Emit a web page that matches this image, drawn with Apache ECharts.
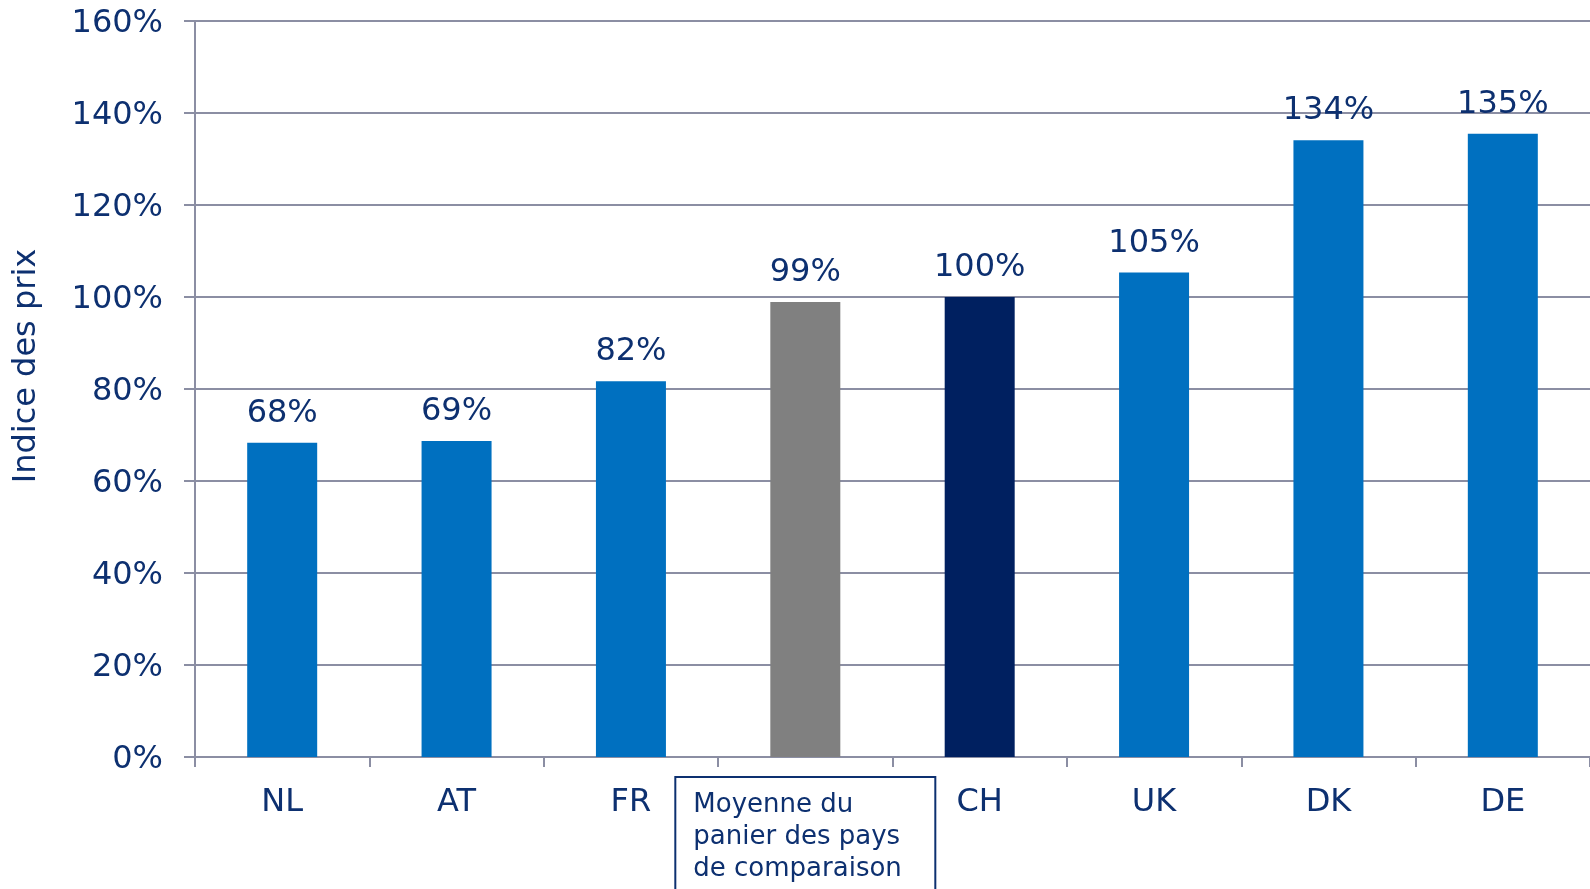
<!DOCTYPE html>
<html>
<head>
<meta charset="utf-8">
<script src="https://cdn.jsdelivr.net/npm/echarts@6/dist/echarts.min.js"></script>
<style>
html,body{margin:0;padding:0;background:#fff;}
#chart{width:1590px;height:889px;}
</style>
</head>
<body>
<div id="chart"></div>
<script>
const categories = ['NL', 'AT', 'FR', 'Moyenne du panier des pays de comparaison', 'CH', 'UK', 'DK', 'DE'];
const values = [68.3, 68.7, 81.7, 98.9, 100, 105.3, 134.1, 135.5];
const valueLabels = ['68%', '69%', '82%', '99%', '100%', '105%', '134%', '135%'];
const barColors = ['#0070c0', '#0070c0', '#0070c0', '#808080', '#002060', '#0070c0', '#0070c0', '#0070c0'];
const yTicks = [0, 20, 40, 60, 80, 100, 120, 140, 160];

const textColor = '#0d3070';
const lineColor = '#8b8ea3';
const font = 'DejaVu Sans';

const chart = echarts.init(document.getElementById('chart'));
chart.setOption({
  animation: false,
  grid: { left: 195, right: 0, top: 21, bottom: 132, containLabel: false, outerBoundsMode: 'none' },
  xAxis: {
    type: 'category',
    data: categories.map((c, i) => i === 3 ? {
      value: c,
      textStyle: {
        borderColor: '#0d3070', borderWidth: 2,
        padding: [12, 20, 60, 18]
      }
    } : c),
    axisLine: { lineStyle: { color: lineColor, width: 2 } },
    axisTick: { show: true, length: 10, lineStyle: { color: lineColor, width: 2 } },
    axisLabel: {
      color: textColor, fontFamily: font, fontSize: 32, lineHeight: 52, margin: 20,
      interval: 0, hideOverlap: false,
      formatter: function (v) {
        if (v.indexOf('Moyenne') === 0) {
          return '{l|Moyenne du}\n{l|panier des pays}\n{l|de comparaison}';
        }
        return v;
      },
      rich: {
        l: { width: 222, align: 'left', fontSize: 26, lineHeight: 32, color: textColor, fontFamily: font }
      }
    }
  },
  yAxis: {
    type: 'value',
    min: 0, max: 160, interval: 20,
    name: 'Indice des prix',
    nameLocation: 'middle',
    nameGap: 152,
    nameTextStyle: { color: textColor, fontFamily: font, fontSize: 32, padding: [0, 0, 0, 46] },
    axisLine: { show: true, lineStyle: { color: lineColor, width: 2 } },
    axisTick: { show: true, length: 11, lineStyle: { color: lineColor, width: 2 } },
    splitLine: { show: true, lineStyle: { color: lineColor, width: 2 } },
    axisLabel: {
      color: textColor, fontFamily: font, fontSize: 32, margin: 32,
      verticalAlign: 'top', lineHeight: 6,
      formatter: v => yTicks.includes(v) ? v + '%' : ''
    }
  },
  series: [{
    type: 'bar',
    barWidth: 70,
    data: values.map((v, i) => ({ value: v, itemStyle: { color: barColors[i] } })),
    label: {
      show: true, position: 'top', distance: 13,
      color: textColor, fontFamily: font, fontSize: 32,
      formatter: p => valueLabels[p.dataIndex]
    }
  }]
});
</script>
</body>
</html>
